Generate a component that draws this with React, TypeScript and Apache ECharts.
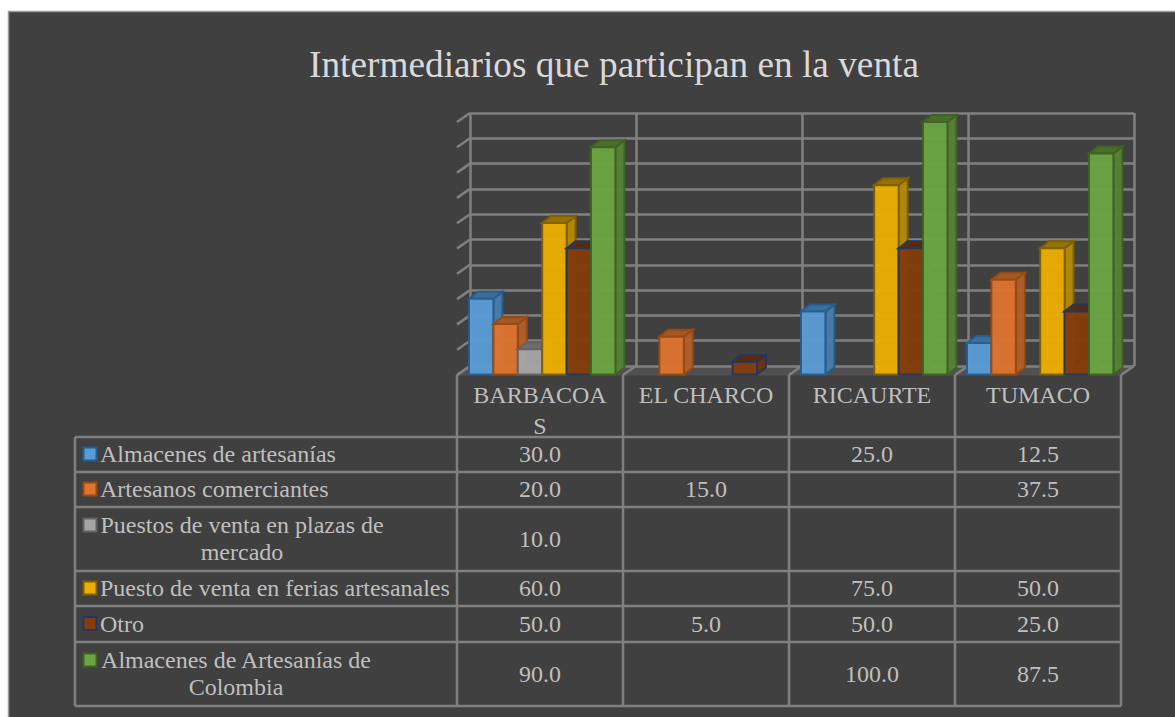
import React, { useEffect, useRef } from "react";
import * as echarts from "echarts";

const TITLE = "Intermediarios que participan en la venta";
const categories = ["BARBACOA\nS", "EL CHARCO", "RICAURTE", "TUMACO"];
const seriesNames = [
  "Almacenes de artesanías",
  "Artesanos comerciantes",
  "Puestos de venta en plazas de\nmercado",
  "Puesto de venta en ferias artesanales",
  "Otro",
  "Almacenes de Artesanías de\nColombia",
];
const almacenes = [30, null, 25, 12.5];
const artesanos = [20, 15, null, 37.5];
const plazas = [10, null, null, null];
const ferias = [60, null, 75, 50];
const otro = [50, 5, 50, 25];
const colombia = [90, null, 100, 87.5];
const seriesValues = [almacenes, artesanos, plazas, ferias, otro, colombia];
const wallTicks = [0, 10, 20, 30, 40, 50, 60, 70, 80, 90, 100];

const palette = [
  { front: "#5B9BD5", stroke: "#255E91", side: "#4A7DAB", top: "#3F6F9E" },
  { front: "#DD7430", stroke: "#984A12", side: "#B1602A", top: "#A65A24" },
  { front: "#A5A5A5", stroke: "#636363", side: "#848484", top: "#6E6E6E" },
  { front: "#EBAE03", stroke: "#7F6000", side: "#B48A04", top: "#997500" },
  { front: "#843C0C", stroke: "#1F3864", side: "#6C310A", top: "#5C2A08" },
  { front: "#6BA443", stroke: "#3F6324", side: "#558235", top: "#4A7029" },
];

// layout (px)
const FRONT = { left: 457, top: 122, width: 664, height: 252.5 };
const WALL = { left: 470, top: 113, width: 664, height: 253 };
const DEPTH_X = 9;
const DEPTH_Y = 7;
const BAR_W = 24.4;
const BAR_PAD = 12;
const ROW_Y = [437, 472, 507, 571, 606, 642, 706];
const COL_X = [457, 623, 789, 955, 1121];
const TABLE_LEFT = 75;
const LABEL_X = 100;
const WRAP_CENTER: Record<number, number> = { 2: 242, 5: 236 };
const GRID_COLOR = "#808080";
const GRID_WIDTH = 2.5;
const TEXT_COLOR = "#BFBFBF";
const FONT = '"Liberation Serif", serif';
const CELL_SIZE = 24;

function barSeries(idx: number) {
  const c = palette[idx];
  const data = seriesValues[idx]
    .map((v, i) => (v === null ? null : [i, v]))
    .filter(Boolean);
  return {
    type: "custom",
    name: seriesNames[idx],
    xAxisIndex: 0,
    yAxisIndex: 0,
    clip: false,
    silent: true,
    z: 3 + idx,
    data,
    encode: { x: 0, y: 1 },
    renderItem: (_p: any, api: any) => {
      const cat = api.value(0);
      const base = api.coord([cat, 0]);
      const top = api.coord([cat, api.value(1)]);
      const band = api.size([1, 0])[0];
      const x = base[0] - band / 2 + BAR_PAD + idx * BAR_W;
      const y0 = base[1];
      const y1 = top[1];
      const lineW = 2;
      return {
        type: "group",
        children: [
          {
            type: "polygon",
            shape: {
              points: [
                [x + BAR_W, y1],
                [x + BAR_W + DEPTH_X, y1 - DEPTH_Y],
                [x + BAR_W + DEPTH_X, y0 - DEPTH_Y],
                [x + BAR_W, y0],
              ],
            },
            style: { fill: c.side, stroke: c.stroke, lineWidth: lineW, opacity: 0.96 },
          },
          {
            type: "polygon",
            shape: {
              points: [
                [x, y1],
                [x + DEPTH_X, y1 - DEPTH_Y],
                [x + BAR_W + DEPTH_X, y1 - DEPTH_Y],
                [x + BAR_W, y1],
              ],
            },
            style: { fill: c.top, stroke: c.stroke, lineWidth: lineW, opacity: 0.96 },
          },
          {
            type: "rect",
            shape: { x, y: y1, width: BAR_W, height: y0 - y1 },
            style: { fill: c.front, stroke: c.stroke, lineWidth: lineW, opacity: 0.96 },
          },
        ],
      };
    },
  };
}

function buildGraphic() {
  const els: any[] = [];
  // panel
  els.push({
    type: "rect",
    z: -10,
    shape: { x: 8.5, y: 11.5, width: 1180, height: 720 },
    style: { fill: "#404040", stroke: "#9A9A9A", lineWidth: 1.5 },
  });
  // floor
  els.push({
    type: "polygon",
    z: 0,
    shape: {
      points: [
        [FRONT.left, FRONT.top + FRONT.height + 1],
        [WALL.left, WALL.top + WALL.height],
        [WALL.left + WALL.width, WALL.top + WALL.height],
        [FRONT.left + FRONT.width, FRONT.top + FRONT.height + 1],
      ],
    },
    style: { fill: "#514F4F" },
  });
  const line = (x1: number, y1: number, x2: number, y2: number) => ({
    type: "line",
    z: 1,
    shape: { x1, y1, x2, y2 },
    style: { stroke: GRID_COLOR, lineWidth: GRID_WIDTH },
  });
  // floor diagonals
  COL_X.forEach((x) => {
    els.push(line(x, 375, x + WALL.left - FRONT.left, WALL.top + WALL.height));
  });
  // table lines
  COL_X.forEach((x) => els.push(line(x, 375, x, ROW_Y[ROW_Y.length - 1])));
  ROW_Y.forEach((y) => els.push(line(TABLE_LEFT, y, COL_X[COL_X.length - 1], y)));
  els.push(line(TABLE_LEFT, ROW_Y[0], TABLE_LEFT, ROW_Y[ROW_Y.length - 1]));
  // table cells
  seriesNames.forEach((name, r) => {
    const top = ROW_Y[r];
    const mid = (top + ROW_Y[r + 1]) / 2 - 0.5;
    const wrapped = name.includes("\n");
    const swatchY = wrapped ? top + 18 : mid;
    els.push({
      type: "rect",
      z: 2,
      shape: { x: 83.5, y: swatchY - 6.5, width: 13, height: 13 },
      style: { fill: palette[r].front, stroke: palette[r].stroke, lineWidth: 2 },
    });
    els.push({
      type: "text",
      z: 2,
      x: wrapped ? WRAP_CENTER[r] : LABEL_X,
      y: mid,
      style: {
        text: name,
        fill: TEXT_COLOR,
        font: `${CELL_SIZE}px ${FONT}`,
        lineHeight: 27,
        align: wrapped ? "center" : "left",
        verticalAlign: "middle",
      },
    });
    seriesValues[r].forEach((v, c) => {
      if (v === null) return;
      els.push({
        type: "text",
        z: 2,
        x: (COL_X[c] + COL_X[c + 1]) / 2,
        y: mid,
        style: {
          text: v.toFixed(1),
          fill: TEXT_COLOR,
          font: `${CELL_SIZE}px ${FONT}`,
          align: "center",
          verticalAlign: "middle",
        },
      });
    });
  });
  return els;
}

export default function App() {
  const ref = useRef<HTMLDivElement>(null);
  useEffect(() => {
    const chart = echarts.init(ref.current!, undefined, { renderer: "svg" });
    chart.setOption({
      animation: false,
      backgroundColor: "#FFFFFF",
      title: {
        text: TITLE,
        left: 609,
        top: 41,
        textAlign: "center",
        textStyle: { fontFamily: FONT, fontSize: 37.3, fontWeight: "normal", color: "#D9D9D9" },
      },
      grid: [
        { left: FRONT.left, top: FRONT.top, width: FRONT.width, height: FRONT.height },
        { left: WALL.left, top: WALL.top, width: WALL.width, height: WALL.height },
      ],
      xAxis: [
        {
          type: "category",
          gridIndex: 0,
          data: categories,
          axisLine: { show: false },
          axisTick: { show: false },
          splitLine: { show: false },
          axisLabel: {
            interval: 0,
            margin: 5,
            color: TEXT_COLOR,
            fontFamily: FONT,
            fontSize: CELL_SIZE,
            lineHeight: 31,
            verticalAlign: "top",
          },
        },
        {
          type: "category",
          gridIndex: 1,
          data: categories,
          axisLine: { show: false },
          axisTick: { show: false },
          axisLabel: { show: false },
          splitLine: { show: true, lineStyle: { color: GRID_COLOR, width: GRID_WIDTH } },
        },
      ],
      yAxis: [
        {
          type: "value",
          gridIndex: 0,
          min: 0,
          max: 100,
          interval: 10,
          axisLine: { show: false },
          axisTick: { show: false },
          axisLabel: { show: false },
          splitLine: { show: false },
        },
        {
          type: "value",
          gridIndex: 1,
          min: 0,
          max: 100,
          interval: 10,
          axisLine: { show: false },
          axisTick: { show: false },
          axisLabel: { show: false },
          splitLine: { show: true, lineStyle: { color: GRID_COLOR, width: GRID_WIDTH } },
        },
      ],
      graphic: { elements: buildGraphic() },
      series: [
        {
          type: "custom",
          xAxisIndex: 1,
          yAxisIndex: 1,
          clip: false,
          silent: true,
          z: 1,
          data: wallTicks.map((t) => [0, t]),
          encode: { x: 0, y: 1 },
          renderItem: (_p: any, api: any) => {
            const pt = api.coord([0, api.value(1)]);
            const band = api.size([1, 0])[0];
            const x = pt[0] - band / 2;
            return {
              type: "line",
              shape: { x1: x, y1: pt[1], x2: x - (WALL.left - FRONT.left), y2: pt[1] + 9 },
              style: { stroke: GRID_COLOR, lineWidth: GRID_WIDTH },
            };
          },
        },
        ...seriesValues.map((_, i) => barSeries(i)),
      ],
    });
    return () => chart.dispose();
  }, []);
  return (
    <div
      ref={ref}
      style={{ position: "absolute", left: 0, top: 0, width: 1175, height: 717 }}
    />
  );
}
